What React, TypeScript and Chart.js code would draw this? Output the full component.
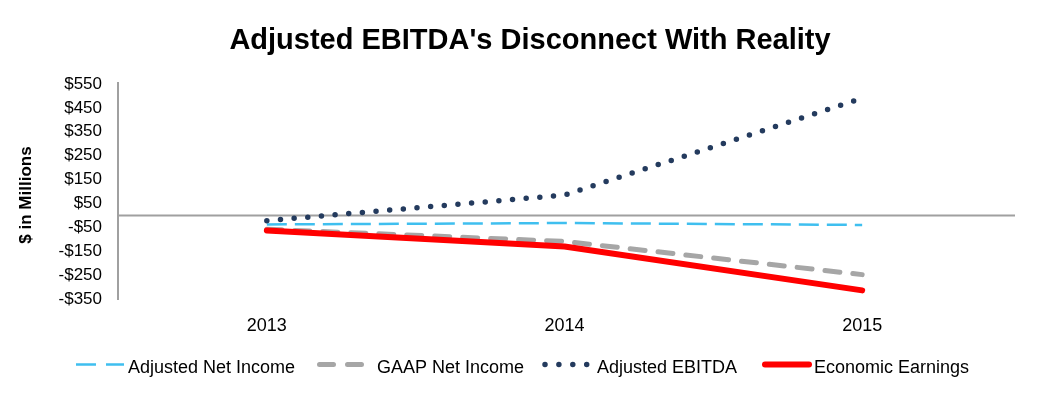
import React, { useEffect, useRef } from "react";
import { Chart, registerables } from "chart.js";

Chart.register(...registerables);

const categories = ["2013", "2014", "2015"];
const adjustedNetIncome = [-38, -32, -40];
const gaapNetIncome = [-58, -109, -248];
const adjustedEbitda = [-22, 85, 490];
const economicEarnings = [-63, -130, -314];
const yMin = -350;
const yMax = 550;
const yStep = 100;

const titleText = "Adjusted EBITDA's Disconnect With Reality";
const yTitleText = "$ in Millions";

const FONT = "'Liberation Sans', Arial, sans-serif";

const BLUE = "#3FBFEF";
const GREY = "#A6A6A6";
const NAVY = "#243B5E";
const RED = "#FF0000";

const legendItems = [
  { label: "Adjusted Net Income", color: BLUE, width: 2.5, dash: [20, 10], cap: "butt", x0: 76, x1: 124, tx: 128 },
  { label: "GAAP Net Income", color: GREY, width: 5, dash: [14, 14], cap: "round", x0: 319.5, x1: 361.5, tx: 377 },
  { label: "Adjusted EBITDA", color: NAVY, width: 5.5, dash: [0, 13.9], cap: "round", x0: 545, x1: 588, tx: 597 },
  { label: "Economic Earnings", color: RED, width: 6, dash: [], cap: "round", x0: 765, x1: 809, tx: 814 },
];

const overlay = {
  id: "overlay",
  beforeDatasetsDraw(chart: any) {
    const { ctx, chartArea } = chart;
    const y = chart.scales.y;
    ctx.save();
    ctx.strokeStyle = "#A0A0A0";
    ctx.lineWidth = 2;
    ctx.beginPath();
    ctx.moveTo(chartArea.left, y.getPixelForValue(yMax) - 2);
    ctx.lineTo(chartArea.left, y.getPixelForValue(yMin) + 1);
    ctx.stroke();
    const zy = y.getPixelForValue(0);
    ctx.beginPath();
    ctx.moveTo(chartArea.left, zy);
    ctx.lineTo(chartArea.right + 4, zy);
    ctx.stroke();
    ctx.restore();
  },
  afterDraw(chart: any) {
    const { ctx } = chart;
    ctx.save();
    ctx.fillStyle = "#000";
    ctx.textAlign = "center";
    ctx.textBaseline = "alphabetic";
    ctx.font = `bold 29px ${FONT}`;
    ctx.fillText(titleText, 530, 48.5);

    ctx.save();
    ctx.translate(26, 195);
    ctx.rotate(-Math.PI / 2);
    ctx.textBaseline = "middle";
    ctx.font = `bold 17px ${FONT}`;
    ctx.fillText(yTitleText, 0, 0);
    ctx.restore();

    const ly = 364.5;
    ctx.font = `18px ${FONT}`;
    ctx.textAlign = "left";
    ctx.textBaseline = "alphabetic";
    for (const it of legendItems) {
      ctx.save();
      ctx.strokeStyle = it.color;
      ctx.lineWidth = it.width;
      ctx.lineCap = it.cap;
      ctx.setLineDash(it.dash);
      ctx.beginPath();
      ctx.moveTo(it.x0, ly);
      ctx.lineTo(it.x1, ly);
      ctx.stroke();
      ctx.restore();
      ctx.fillStyle = "#000";
      ctx.fillText(it.label, it.tx, 372.5);
    }
    ctx.restore();
  },
};

export default function App() {
  const ref = useRef<HTMLCanvasElement | null>(null);
  useEffect(() => {
    if (!ref.current) return;
    const chart = new Chart(ref.current, {
      type: "line",
      data: {
        labels: categories,
        datasets: [
          {
            label: "Adjusted Net Income",
            data: adjustedNetIncome,
            borderColor: BLUE,
            borderWidth: 2.5,
            borderDash: [20, 8],
            pointRadius: 0,
            order: 2,
          },
          {
            label: "GAAP Net Income",
            data: gaapNetIncome,
            borderColor: GREY,
            borderWidth: 5,
            borderDash: [15, 13],
            borderCapStyle: "round",
            pointRadius: 0,
            order: 3,
          },
          {
            label: "Adjusted EBITDA",
            data: adjustedEbitda,
            borderColor: NAVY,
            borderWidth: 5.5,
            borderDash: [0, 13.7],
            borderCapStyle: "round",
            pointRadius: 0,
            order: 1,
          },
          {
            label: "Economic Earnings",
            data: economicEarnings,
            borderColor: RED,
            borderWidth: 6,
            borderCapStyle: "round",
            borderJoinStyle: "round",
            pointRadius: 0,
            order: 0,
          },
        ],
      },
      options: {
        animation: false,
        responsive: true,
        maintainAspectRatio: false,
        layout: { padding: { top: 84, left: 0, right: 30, bottom: 60 } },
        plugins: {
          legend: { display: false },
          title: { display: false },
          tooltip: { enabled: false },
        },
        elements: { line: { tension: 0 } },
        scales: {
          x: {
            offset: true,
            grid: { display: false, drawTicks: false },
            border: { display: false },
            ticks: { color: "#000", font: { family: FONT, size: 18 }, padding: 16 },
            afterFit(scale: any) {
              scale.height = 40;
            },
          },
          y: {
            min: yMin,
            max: yMax,
            grid: { display: false, drawTicks: false },
            border: { display: false },
            ticks: {
              stepSize: yStep,
              color: "#000",
              padding: 16,
              font: { family: FONT, size: 17 },
              callback: (v: any) => (v < 0 ? "-$" + Math.abs(v) : "$" + v),
            },
            afterFit(scale: any) {
              scale.width = 118;
            },
          },
        },
      },
      plugins: [overlay],
    });
    return () => chart.destroy();
  }, []);
  return (
    <div style={{ position: "absolute", left: 0, top: 0, width: 1041, height: 399, background: "#fff" }}>
      <canvas ref={ref} />
    </div>
  );
}
